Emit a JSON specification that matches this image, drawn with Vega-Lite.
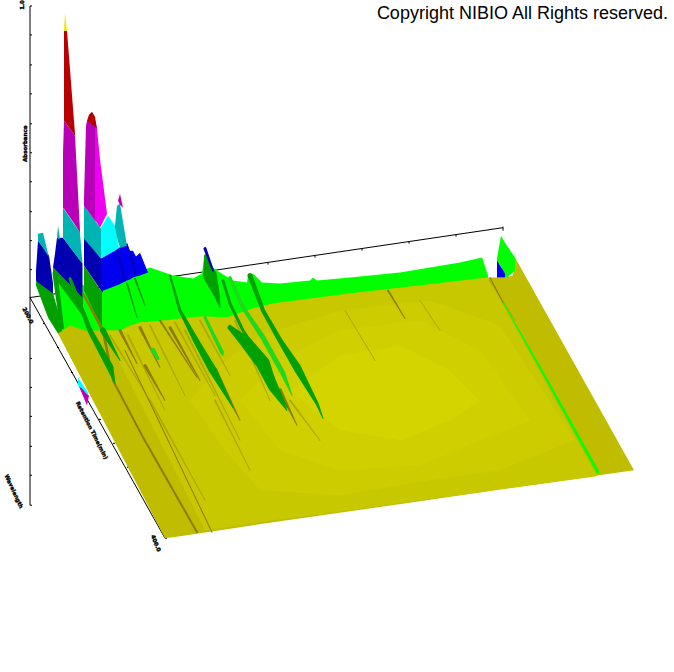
{"$schema":"https://vega.github.io/schema/vega-lite/v6.json","width":674,"height":672,"padding":0,"autosize":{"type":"fit","contains":"padding"},"background":"white","config":{"view":{"stroke":null}},
"datasets":{
"axes":[{"x":30,"y":5,"x2":30,"y2":505},{"x":30,"y":297,"x2":165,"y2":538},{"x":30,"y":297,"x2":503,"y2":227},
{"x":30,"y":5,"x2":32,"y2":5},{"x":30,"y":34,"x2":32,"y2":34},{"x":30,"y":64,"x2":32,"y2":64},{"x":30,"y":93,"x2":32,"y2":93},{"x":30,"y":123,"x2":32,"y2":123},{"x":30,"y":152,"x2":32,"y2":152},{"x":30,"y":181,"x2":32,"y2":181},{"x":30,"y":211,"x2":32,"y2":211},{"x":30,"y":240,"x2":32,"y2":240},{"x":30,"y":269,"x2":32,"y2":269},{"x":30,"y":358,"x2":32,"y2":358},{"x":30,"y":387,"x2":32,"y2":387},{"x":30,"y":416,"x2":32,"y2":416},{"x":30,"y":446,"x2":32,"y2":446},{"x":30,"y":475,"x2":32,"y2":475},{"x":30,"y":505,"x2":32,"y2":505},
{"x":43,"y":323,"x2":45,"y2":323},{"x":57,"y":347,"x2":59,"y2":347},{"x":71,"y":372,"x2":73,"y2":372},{"x":85,"y":396,"x2":87,"y2":396},{"x":99,"y":419,"x2":101,"y2":419},{"x":113,"y":443,"x2":115,"y2":443},{"x":127,"y":467,"x2":129,"y2":467},{"x":141,"y":492,"x2":143,"y2":492},{"x":154,"y":515,"x2":156,"y2":515},{"x":165,"y":538,"x2":167,"y2":538},
{"x":268,"y":262,"x2":268,"y2":264},{"x":315,"y":255,"x2":315,"y2":257},{"x":362,"y":248,"x2":362,"y2":250},{"x":409,"y":241,"x2":409,"y2":243},{"x":456,"y":234,"x2":456,"y2":236},{"x":503,"y":226,"x2":503,"y2":230}],
"surface":[
{"p":"c0","b":"cyan","x":78,"y":377,"y2":385},{"p":"c0","b":"cyan","x":88,"y":392,"y2":397},
{"p":"m0","b":"magenta","x":79,"y":386,"y2":386},{"p":"m0","b":"magenta","x":82,"y":388,"y2":393},{"p":"m0","b":"magenta","x":87,"y":394,"y2":405},{"p":"m0","b":"magenta","x":89,"y":395,"y2":395},
{"p":"g1","b":"green","x":58,"y":272,"y2":333},{"p":"g1","b":"green","x":84,"y":285,"y2":345},{"p":"g1","b":"green","x":103,"y":290,"y2":345},{"p":"g1","b":"green","x":130,"y":275,"y2":345},{"p":"g1","b":"green","x":150,"y":267,"y2":340},{"p":"g1","b":"green","x":173,"y":275,"y2":335},{"p":"g1","b":"green","x":193,"y":278,"y2":330},{"p":"g1","b":"green","x":202,"y":273,"y2":330},{"p":"g1","b":"green","x":205,"y":252,"y2":330},{"p":"g1","b":"green","x":213,"y":267,"y2":330},{"p":"g1","b":"green","x":220,"y":272,"y2":330},{"p":"g1","b":"green","x":233,"y":280,"y2":330},{"p":"g1","b":"green","x":247,"y":282,"y2":325},{"p":"g1","b":"green","x":248,"y":275,"y2":325},{"p":"g1","b":"green","x":253,"y":273,"y2":320},{"p":"g1","b":"green","x":262,"y":282,"y2":320},{"p":"g1","b":"green","x":280,"y":283,"y2":315},{"p":"g1","b":"green","x":310,"y":280,"y2":310},{"p":"g1","b":"green","x":313,"y":277,"y2":310},{"p":"g1","b":"green","x":317,"y":280,"y2":310},{"p":"g1","b":"green","x":350,"y":277,"y2":305},{"p":"g1","b":"green","x":400,"y":272,"y2":300},{"p":"g1","b":"green","x":460,"y":262,"y2":295},{"p":"g1","b":"green","x":482,"y":257,"y2":290},{"p":"g1","b":"green","x":488,"y":275,"y2":280},
{"p":"d1","b":"dkgreen","x":36,"y":272,"y2":285},{"p":"d1","b":"dkgreen","x":48,"y":285,"y2":317},{"p":"d1","b":"dkgreen","x":53,"y":293,"y2":325},{"p":"d1","b":"dkgreen","x":58,"y":310,"y2":333},{"p":"d1","b":"dkgreen","x":62,"y":327,"y2":331},
{"p":"n1","b":"navy","x":36,"y":270,"y2":280},{"p":"n1","b":"navy","x":38,"y":240,"y2":282},{"p":"n1","b":"navy","x":49,"y":255,"y2":290},{"p":"n1","b":"navy","x":53,"y":283,"y2":293},
{"p":"t1","b":"teal","x":38,"y":233,"y2":240},{"p":"t1","b":"teal","x":43,"y":232,"y2":247},{"p":"t1","b":"teal","x":49,"y":257,"y2":257},
{"p":"d2","b":"dkgreen","x":53,"y":267,"y2":275},{"p":"d2","b":"dkgreen","x":83,"y":297,"y2":316},
{"p":"n2","b":"navy","x":53,"y":267,"y2":267},{"p":"n2","b":"navy","x":55,"y":253,"y2":269},{"p":"n2","b":"navy","x":57,"y":237,"y2":271},{"p":"n2","b":"navy","x":63,"y":237,"y2":277},{"p":"n2","b":"navy","x":82.5,"y":263,"y2":297},
{"p":"t2","b":"teal","x":63,"y":207,"y2":237},{"p":"t2","b":"teal","x":80,"y":232,"y2":260},{"p":"t2","b":"teal","x":82.5,"y":263,"y2":263},
{"p":"t3","b":"teal","x":57,"y":237,"y2":237},{"p":"t3","b":"teal","x":58,"y":225,"y2":238},{"p":"t3","b":"teal","x":60,"y":238,"y2":238},
{"p":"m2","b":"magenta","x":63,"y":152,"y2":207},{"p":"m2","b":"magenta","x":64,"y":120,"y2":208},{"p":"m2","b":"magenta","x":75,"y":135,"y2":224},{"p":"m2","b":"magenta","x":80,"y":230,"y2":232},
{"p":"r2","b":"red","x":64,"y":30,"y2":120},{"p":"r2","b":"red","x":67,"y":30,"y2":124},{"p":"r2","b":"red","x":75,"y":133,"y2":135},
{"p":"y0","b":"gold","x":64,"y":30,"y2":30},{"p":"y0","b":"gold","x":65,"y":12,"y2":30},{"p":"y0","b":"gold","x":67,"y":30,"y2":30},
{"p":"d3","b":"dkgreen","x":84,"y":265,"y2":290},{"p":"d3","b":"dkgreen","x":102,"y":292,"y2":328},
{"p":"n3","b":"navy","x":84,"y":235,"y2":265},{"p":"n3","b":"navy","x":101,"y":258,"y2":290},{"p":"n3","b":"navy","x":103,"y":260,"y2":292},
{"p":"b3","b":"blue","x":101,"y":258,"y2":291},{"p":"b3","b":"blue","x":119,"y":247,"y2":284},{"p":"b3","b":"blue","x":127,"y":243,"y2":280},{"p":"b3","b":"blue","x":130,"y":250,"y2":279},{"p":"b3","b":"blue","x":133,"y":250,"y2":277},{"p":"b3","b":"blue","x":136,"y":256,"y2":276},{"p":"b3","b":"blue","x":140,"y":252,"y2":275},{"p":"b3","b":"blue","x":148,"y":272,"y2":272},
{"p":"t4","b":"teal","x":84,"y":205,"y2":238},{"p":"t4","b":"teal","x":101,"y":228,"y2":258},
{"p":"c3","b":"cyan","x":101,"y":227,"y2":258},{"p":"c3","b":"cyan","x":108,"y":215,"y2":254},{"p":"c3","b":"cyan","x":115,"y":225,"y2":250},{"p":"c3","b":"cyan","x":119,"y":247,"y2":247},
{"p":"m3","b":"magenta","x":84,"y":197,"y2":205},{"p":"m3","b":"magenta","x":86,"y":125,"y2":208},{"p":"m3","b":"magenta","x":87,"y":120,"y2":209},{"p":"m3","b":"magenta","x":95,"y":120,"y2":220},
{"p":"m3b","b":"pink","x":95,"y":120,"y2":220},{"p":"m3b","b":"pink","x":97,"y":128,"y2":222},{"p":"m3b","b":"pink","x":100,"y":159,"y2":227},{"p":"m3b","b":"pink","x":107,"y":213,"y2":213},
{"p":"r3","b":"red","x":86,"y":125,"y2":125},{"p":"r3","b":"red","x":87,"y":120,"y2":120},{"p":"r3","b":"red","x":89,"y":114,"y2":121},{"p":"r3","b":"red","x":92,"y":111,"y2":124},{"p":"r3","b":"red","x":95,"y":116,"y2":126},{"p":"r3","b":"red","x":97,"y":128,"y2":128},
{"p":"t5","b":"teal","x":115,"y":225,"y2":227},{"p":"t5","b":"teal","x":117,"y":205,"y2":237},{"p":"t5","b":"teal","x":120,"y":203,"y2":247},{"p":"t5","b":"teal","x":127,"y":245,"y2":245},
{"p":"m4","b":"magenta","x":118,"y":200,"y2":200},{"p":"m4","b":"magenta","x":120,"y":193,"y2":204},{"p":"m4","b":"magenta","x":123,"y":207,"y2":207},
{"p":"y1","b":"olive1","x":58,"y":333,"y2":333},{"p":"y1","b":"olive1","x":70,"y":325,"y2":356},{"p":"y1","b":"olive1","x":85,"y":330,"y2":385},{"p":"y1","b":"olive1","x":103,"y":330,"y2":419},{"p":"y1","b":"olive1","x":120,"y":330,"y2":452},{"p":"y1","b":"olive1","x":130,"y":325,"y2":471},{"p":"y1","b":"olive1","x":140,"y":322,"y2":490},{"p":"y1","b":"olive1","x":165,"y":320,"y2":538},{"p":"y1","b":"olive1","x":180,"y":318,"y2":536},{"p":"y1","b":"olive1","x":200,"y":316,"y2":533},{"p":"y1","b":"olive1","x":227,"y":317,"y2":529},{"p":"y1","b":"olive1","x":253,"y":308,"y2":525},{"p":"y1","b":"olive1","x":273,"y":303,"y2":522},{"p":"y1","b":"olive1","x":350,"y":293,"y2":511},{"p":"y1","b":"olive1","x":420,"y":285,"y2":501},{"p":"y1","b":"olive1","x":488,"y":277,"y2":491},{"p":"y1","b":"olive1","x":505,"y":277,"y2":488},{"p":"y1","b":"olive1","x":513,"y":275,"y2":487},{"p":"y1","b":"olive1","x":515,"y":257,"y2":487},{"p":"y1","b":"olive1","x":634,"y":470,"y2":470},
{"p":"y2","b":"olive2","x":103,"y":330,"y2":330},{"p":"y2","b":"olive2","x":120,"y":330,"y2":363},{"p":"y2","b":"olive2","x":140,"y":322,"y2":402},{"p":"y2","b":"olive2","x":165,"y":320,"y2":451},{"p":"y2","b":"olive2","x":180,"y":318,"y2":480},{"p":"y2","b":"olive2","x":205,"y":316,"y2":530},{"p":"y2","b":"olive2","x":227,"y":317,"y2":527},{"p":"y2","b":"olive2","x":253,"y":308,"y2":523},{"p":"y2","b":"olive2","x":273,"y":303,"y2":520},{"p":"y2","b":"olive2","x":350,"y":293,"y2":510},{"p":"y2","b":"olive2","x":420,"y":285,"y2":500},{"p":"y2","b":"olive2","x":488,"y":277,"y2":491},{"p":"y2","b":"olive2","x":597,"y":476,"y2":476},
{"p":"y3","b":"olive3","x":190,"y":400,"y2":400},{"p":"y3","b":"olive3","x":225,"y":360,"y2":450},{"p":"y3","b":"olive3","x":260,"y":335,"y2":490},{"p":"y3","b":"olive3","x":340,"y":310,"y2":495},{"p":"y3","b":"olive3","x":430,"y":300,"y2":480},{"p":"y3","b":"olive3","x":500,"y":325,"y2":470},{"p":"y3","b":"olive3","x":575,"y":440,"y2":440},
{"p":"y4","b":"olive4","x":240,"y":400,"y2":400},{"p":"y4","b":"olive4","x":280,"y":360,"y2":450},{"p":"y4","b":"olive4","x":340,"y":330,"y2":470},{"p":"y4","b":"olive4","x":420,"y":320,"y2":465},{"p":"y4","b":"olive4","x":480,"y":350,"y2":440},{"p":"y4","b":"olive4","x":530,"y":420,"y2":420},
{"p":"y5","b":"olive5","x":290,"y":390,"y2":390},{"p":"y5","b":"olive5","x":340,"y":355,"y2":430},{"p":"y5","b":"olive5","x":400,"y":345,"y2":440},{"p":"y5","b":"olive5","x":450,"y":370,"y2":420},{"p":"y5","b":"olive5","x":480,"y":400,"y2":400},
{"p":"g2","b":"green","x":497,"y":258,"y2":260},{"p":"g2","b":"green","x":501,"y":235,"y2":266},{"p":"g2","b":"green","x":505,"y":242,"y2":277},{"p":"g2","b":"green","x":507,"y":245,"y2":277},{"p":"g2","b":"green","x":515,"y":257,"y2":270},
{"p":"b4","b":"blue","x":497,"y":260,"y2":277},{"p":"b4","b":"blue","x":505,"y":273,"y2":277}
],
"streaks":[
{"s":"f1","b":"faint","x":110,"y":335,"w":2},{"s":"f1","b":"faint","x":150,"y":400,"w":0},
{"s":"f2","b":"faint","x":128,"y":335,"w":2},{"s":"f2","b":"faint","x":165,"y":410,"w":0},
{"s":"f3","b":"faint","x":150,"y":325,"w":2},{"s":"f3","b":"faint","x":185,"y":395,"w":0},
{"s":"f4","b":"faint","x":175,"y":322,"w":2},{"s":"f4","b":"faint","x":215,"y":395,"w":0},
{"s":"f5","b":"faint","x":185,"y":330,"w":2},{"s":"f5","b":"faint","x":240,"y":440,"w":0},
{"s":"f6","b":"faint","x":200,"y":320,"w":2},{"s":"f6","b":"faint","x":230,"y":375,"w":0},
{"s":"f7","b":"faint","x":235,"y":320,"w":2},{"s":"f7","b":"faint","x":270,"y":400,"w":0},
{"s":"f8","b":"faint","x":290,"y":400,"w":2},{"s":"f8","b":"faint","x":320,"y":440,"w":0},
{"s":"f9","b":"faint","x":215,"y":400,"w":2},{"s":"f9","b":"faint","x":250,"y":470,"w":0},
{"s":"f10","b":"faint","x":345,"y":310,"w":1},{"s":"f10","b":"faint","x":375,"y":360,"w":0},
{"s":"f11","b":"faint","x":420,"y":300,"w":1},{"s":"f11","b":"faint","x":440,"y":330,"w":0},
{"s":"f12","b":"faint","x":150,"y":400,"w":2},{"s":"f12","b":"faint","x":205,"y":500,"w":0},
{"s":"f13","b":"faint","x":490,"y":280,"w":2},{"s":"f13","b":"faint","x":515,"y":320,"w":0},
{"s":"a1","b":"navy","x":117,"y":250,"w":2},{"s":"a1","b":"navy","x":125,"y":280,"w":2},
{"s":"a2","b":"navy","x":127,"y":243,"w":1},{"s":"a2","b":"navy","x":135,"y":272,"w":2},
{"s":"b1","b":"brown","x":83,"y":293,"w":2},{"s":"b1","b":"brown","x":103,"y":330,"w":3},{"s":"b1","b":"brown","x":113,"y":380,"w":2},{"s":"b1","b":"brown","x":143,"y":437,"w":2},{"s":"b1","b":"brown","x":197,"y":532,"w":2},
{"s":"b2","b":"brown","x":125,"y":350,"w":1},{"s":"b2","b":"brown","x":212,"y":532,"w":1},
{"s":"b3","b":"brown","x":120,"y":330,"w":3},{"s":"b3","b":"brown","x":137,"y":363,"w":0},
{"s":"b4","b":"brown","x":140,"y":327,"w":3},{"s":"b4","b":"brown","x":160,"y":367,"w":0},
{"s":"b5","b":"brown","x":160,"y":320,"w":2},{"s":"b5","b":"brown","x":197,"y":377,"w":0},
{"s":"b6","b":"brown","x":170,"y":327,"w":3},{"s":"b6","b":"brown","x":200,"y":380,"w":0},
{"s":"b7","b":"brown","x":215,"y":370,"w":5},{"s":"b7","b":"brown","x":240,"y":420,"w":0},
{"s":"b8","b":"brown","x":280,"y":390,"w":4},{"s":"b8","b":"brown","x":297,"y":425,"w":0},
{"s":"b9","b":"brown","x":388,"y":290,"w":2},{"s":"b9","b":"brown","x":405,"y":318,"w":0},
{"s":"b10","b":"brown","x":490,"y":277,"w":1},{"s":"b10","b":"brown","x":503,"y":302,"w":1},
{"s":"b11","b":"brown","x":145,"y":365,"w":3},{"s":"b11","b":"brown","x":165,"y":400,"w":0},
{"s":"d0","b":"dkgreen","x":55,"y":273,"w":5},{"s":"d0","b":"dkgreen","x":62,"y":327,"w":4},
{"s":"d1","b":"dkgreen","x":70,"y":278,"w":3},{"s":"d1","b":"dkgreen","x":90,"y":330,"w":5},{"s":"d1","b":"dkgreen","x":110,"y":367,"w":7},{"s":"d1","b":"dkgreen","x":115,"y":383,"w":1},
{"s":"d2","b":"dkgreen","x":103,"y":330,"w":6},{"s":"d2","b":"dkgreen","x":120,"y":360,"w":1},
{"s":"d3","b":"dkgreen","x":127,"y":283,"w":2},{"s":"d3","b":"dkgreen","x":137,"y":317,"w":1},
{"s":"d3b","b":"dkgreen","x":135,"y":278,"w":2},{"s":"d3b","b":"dkgreen","x":145,"y":305,"w":1},
{"s":"d4","b":"dkgreen","x":170,"y":275,"w":2},{"s":"d4","b":"dkgreen","x":180,"y":310,"w":3},{"s":"d4","b":"dkgreen","x":197,"y":342,"w":6},{"s":"d4","b":"dkgreen","x":213,"y":370,"w":8},{"s":"d4","b":"dkgreen","x":233,"y":407,"w":0},
{"s":"d5","b":"dkgreen","x":205,"y":255,"w":2},{"s":"d5","b":"dkgreen","x":210,"y":275,"w":14},{"s":"d5","b":"dkgreen","x":217,"y":295,"w":6},{"s":"d5","b":"dkgreen","x":220,"y":307,"w":1},
{"s":"d6","b":"navy","x":205,"y":248,"w":3},{"s":"d6","b":"navy","x":213,"y":270,"w":2},
{"s":"d7","b":"dkgreen","x":223,"y":280,"w":3},{"s":"d7","b":"dkgreen","x":230,"y":303,"w":3},{"s":"d7","b":"dkgreen","x":243,"y":330,"w":3},{"s":"d7","b":"dkgreen","x":270,"y":370,"w":3},{"s":"d7","b":"dkgreen","x":287,"y":407,"w":1},
{"s":"l1","b":"ltgreen","x":205,"y":317,"w":3},{"s":"l1","b":"ltgreen","x":222,"y":352,"w":4},{"s":"l1","b":"ltgreen","x":223,"y":355,"w":0},
{"s":"l2","b":"ltgreen","x":230,"y":277,"w":3},{"s":"l2","b":"ltgreen","x":243,"y":307,"w":4},{"s":"l2","b":"ltgreen","x":263,"y":337,"w":5},{"s":"l2","b":"ltgreen","x":283,"y":373,"w":5},{"s":"l2","b":"ltgreen","x":292,"y":395,"w":0},
{"s":"d8","b":"dkgreen","x":230,"y":327,"w":5},{"s":"d8","b":"dkgreen","x":247,"y":343,"w":12},{"s":"d8","b":"dkgreen","x":263,"y":363,"w":14},{"s":"d8","b":"dkgreen","x":273,"y":387,"w":9},{"s":"d8","b":"dkgreen","x":287,"y":410,"w":0},
{"s":"d9","b":"dkgreen","x":250,"y":275,"w":5},{"s":"d9","b":"dkgreen","x":263,"y":310,"w":4},{"s":"d9","b":"dkgreen","x":280,"y":340,"w":5},{"s":"d9","b":"dkgreen","x":297,"y":367,"w":8},{"s":"d9","b":"dkgreen","x":317,"y":403,"w":3},{"s":"d9","b":"dkgreen","x":323,"y":418,"w":0},
{"s":"l3","b":"ltgreen","x":153,"y":350,"w":5},{"s":"l3","b":"ltgreen","x":158,"y":358,"w":3},
{"s":"g3","b":"green","x":503,"y":302,"w":1},{"s":"g3","b":"green","x":540,"y":367,"w":2},{"s":"g3","b":"green","x":598,"y":472,"w":3}
],
"labels":[
{"t":"1.0","x":22,"y":4,"a":270,"k":"tick"},
{"t":"Absorbance","x":25,"y":143,"a":270,"k":"title"},
{"t":"200.0","x":28,"y":315,"a":62,"k":"tick"},
{"t":"Retention Time(min)","x":92,"y":430,"a":63,"k":"title"},
{"t":"Wavelength","x":14,"y":491,"a":65,"k":"title"},
{"t":"400.0","x":156,"y":543,"a":68,"k":"tick"}
],
"note":[{"t":"Copyright NIBIO All Rights reserved.","x":668,"y":13}]
},
"layer":[
{"data":{"name":"axes"},"mark":{"type":"rule","color":"black","strokeWidth":1},"encoding":{"x":{"field":"x","type":"quantitative","scale":{"domain":[0,674],"nice":false,"zero":false},"axis":null},"y":{"field":"y","type":"quantitative","scale":{"domain":[672,0],"nice":false,"zero":false},"axis":null},"x2":{"field":"x2"},"y2":{"field":"y2"}}},
{"data":{"name":"surface"},"mark":{"type":"area","interpolate":"linear","opacity":1},"encoding":{"x":{"field":"x","type":"quantitative","axis":null},"y":{"field":"y","type":"quantitative","axis":null,"stack":null},"y2":{"field":"y2"},"detail":{"field":"p"},"color":{"field":"b","type":"nominal","legend":null,"scale":{"domain":["cyan","magenta","pink","green","dkgreen","ltgreen","navy","blue","teal","red","gold","olive1","olive2","olive3","olive4","olive5","faint","brown"],"range":["#00ffff","#b800b8","#f000f0","#00ff00","#00a000","#20d820","#0000b0","#0000f0","#00b4b4","#b80000","#e8e800","#c0bc00","#c8c800","#cccc00","#d0d000","#d4d400","#aeaa00","#8c7c00"]}}}},
{"data":{"name":"streaks"},"mark":{"type":"trail"},"encoding":{"x":{"field":"x","type":"quantitative","axis":null},"y":{"field":"y","type":"quantitative","axis":null},"detail":{"field":"s"},"color":{"field":"b","type":"nominal","legend":null},"size":{"field":"w","type":"quantitative","legend":null,"scale":{"domain":[0,20],"range":[0,20],"zero":true}}}},
{"data":{"name":"labels"},"mark":{"type":"text","font":"DejaVu Sans","fontSize":5.5,"fontWeight":"bold","color":"black","stroke":"black","strokeWidth":0.4,"align":"center","baseline":"middle"},"encoding":{"x":{"field":"x","type":"quantitative","axis":null},"y":{"field":"y","type":"quantitative","axis":null},"text":{"field":"t"},"angle":{"field":"a","type":"quantitative","scale":null}}},
{"data":{"name":"note"},"mark":{"type":"text","font":"Liberation Sans","fontSize":18,"color":"black","align":"right","baseline":"middle"},"encoding":{"x":{"field":"x","type":"quantitative","axis":null},"y":{"field":"y","type":"quantitative","axis":null},"text":{"field":"t"}}}
]}
